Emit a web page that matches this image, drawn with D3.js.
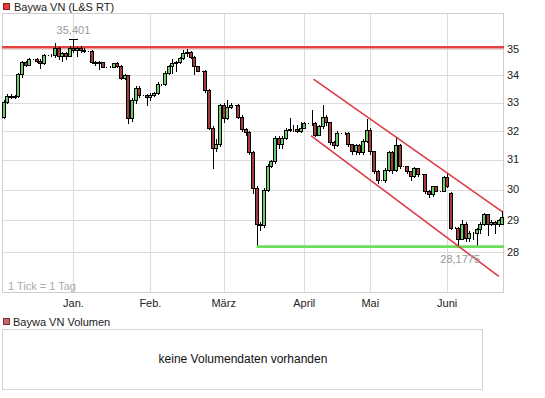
<!DOCTYPE html>
<html>
<head>
<meta charset="utf-8">
<script src="https://cdn.jsdelivr.net/npm/d3@7"></script>
<style>
  body { margin: 0; background: #fff; }
  svg { display: block; font-family: "Liberation Sans", Arial, sans-serif; }
</style>
</head>
<body>
<svg id="chart" width="545" height="398"></svg>
<script>
// daily candles, Dec .. Jun, one tick per trading day
const opens = [32.49,33.04,33.25,33.22,33.25,34.05,34.50,34.40,34.62,34.62,34.55,34.45,34.77,34.77,34.77,35.05,34.75,34.85,34.75,
  35.05,34.98,35.02,34.98,34.93,34.93,34.50,34.46,34.50,34.32,34.32,34.32,34.45,34.35,33.90,34.00,32.46,33.10,33.55,33.28,33.28,
  33.20,33.28,33.35,33.70,33.68,34.10,34.35,34.45,34.50,34.66,34.85,34.90,34.70,34.35,34.18,34.18,33.46,32.10,31.40,31.52,
  32.90,32.46,32.85,32.92,32.92,32.50,32.05,31.95,31.25,30.05,28.90,28.85,30.00,30.80,30.95,31.75,31.55,31.75,32.04,32.07,32.07,32.00,
  32.10,32.28,32.28,32.28,31.86,32.15,32.50,32.30,31.60,31.50,31.93,31.93,31.93,31.52,31.28,31.50,31.25,31.65,
  32.04,31.28,30.60,30.30,30.30,30.65,31.25,30.65,31.50,30.78,30.78,30.60,30.45,30.70,30.50,30.50,29.96,29.85,30.10,29.96,29.96,
  30.40,29.90,28.77,28.77,28.42,28.90,28.45,28.60,28.60,28.72,28.88,29.20,28.90,28.95,28.88,28.90];
const highs = [33.08,33.30,33.30,33.28,34.10,34.55,34.55,34.65,34.62,34.66,34.60,34.80,34.77,34.80,35.25,35.08,34.88,34.90,35.10,
  35.401,35.08,35.12,35.05,34.93,34.95,34.55,34.55,34.52,34.32,34.34,34.48,34.50,34.40,34.05,34.02,33.15,33.60,33.60,33.28,33.30,
  33.35,33.40,33.75,33.70,34.15,34.38,34.60,34.55,34.68,34.95,35.00,34.92,34.72,34.35,34.18,34.20,33.48,32.15,31.70,32.95,
  33.00,33.10,33.00,32.92,32.95,32.55,32.10,32.00,31.30,30.10,28.95,30.05,30.85,31.00,31.80,31.80,31.80,32.10,32.45,32.20,32.20,32.30,
  32.30,32.28,32.74,32.30,32.20,32.90,32.55,32.32,31.65,32.00,31.93,31.95,31.95,31.55,31.55,31.55,31.70,32.40,
  32.10,31.30,30.65,30.30,30.70,31.30,31.30,31.75,31.52,30.78,30.80,30.62,30.75,30.72,30.50,30.52,30.00,30.12,30.10,29.96,30.45,
  30.55,29.92,28.80,28.78,29.02,28.95,28.65,28.62,28.75,28.95,29.25,29.22,29.00,28.98,29.05,29.30];
const lows = [32.46,33.00,33.15,33.18,33.20,33.95,34.35,34.38,34.62,34.50,34.28,34.42,34.77,34.74,34.70,34.60,34.55,34.62,34.72,
  34.90,34.75,34.90,34.90,34.93,34.45,34.40,34.25,34.30,34.32,34.30,34.30,34.30,33.85,33.88,32.28,32.35,33.00,33.20,33.28,32.92,
  33.10,33.25,33.30,33.66,33.65,34.05,34.10,34.15,34.48,34.60,34.75,34.65,34.05,34.15,34.18,33.40,32.05,30.70,31.30,31.45,
  32.30,32.40,32.80,32.92,32.45,32.00,31.85,31.20,29.90,28.19,28.70,28.80,29.95,30.75,30.90,31.40,31.40,31.70,32.00,32.00,31.95,31.95,
  32.08,32.28,32.20,31.80,31.85,32.10,32.20,31.55,31.40,31.45,31.93,31.90,31.45,31.20,31.20,31.20,31.20,31.60,
  31.20,30.55,30.20,30.30,30.25,30.60,30.55,30.60,30.70,30.78,30.55,30.30,30.40,30.45,30.50,29.90,29.75,29.80,29.94,29.96,29.94,
  30.08,28.72,28.75,28.1775,28.40,28.35,28.35,28.40,28.20,28.60,28.85,28.55,28.85,28.60,28.82,28.88];
const closes = [33.04,33.25,33.22,33.25,34.05,34.50,34.40,34.62,34.62,34.55,34.45,34.77,34.77,34.77,35.05,34.75,34.85,34.75,35.05,
  34.98,35.02,34.98,34.93,34.93,34.50,34.46,34.50,34.32,34.32,34.32,34.45,34.35,33.90,34.00,32.46,33.10,33.55,33.28,33.28,33.20,
  33.28,33.35,33.70,33.68,34.10,34.35,34.45,34.50,34.66,34.85,34.90,34.70,34.35,34.18,34.18,33.46,32.10,31.40,31.52,32.90,
  32.46,32.85,32.92,32.92,32.50,32.05,31.95,31.25,30.05,28.90,28.85,30.00,30.80,30.95,31.75,31.55,31.75,32.04,32.07,32.07,32.00,32.10,
  32.28,32.28,32.28,31.86,32.15,32.50,32.30,31.60,31.50,31.93,31.93,31.93,31.52,31.28,31.50,31.25,31.65,32.04,
  31.28,30.60,30.30,30.30,30.65,31.25,30.65,31.50,30.78,30.78,30.60,30.45,30.70,30.50,30.50,29.96,29.85,30.10,29.96,29.96,30.40,
  30.12,28.77,28.77,28.42,28.90,28.45,28.60,28.60,28.72,28.88,29.20,28.90,28.95,28.88,29.00,29.10];

const monthLabels = ["Jan.", "Feb.", "März", "April", "Mai", "Juni"];
const monthStarts = [19, 40, 60, 82, 100, 121];
const priceTicks = [28, 29, 30, 31, 32, 33, 34, 35];

const resistance = 35.07;
const supportStart = 69;
// trend channel: [index, price] endpoints
const channelUpper = [[84.5, 33.86], [136.0, 29.28]];
const channelLower = [[83.8, 31.83], [135.1, 27.27]];

const svg = d3.select("#chart");
const plotL = 2, plotR = 504, plotT = 13, plotB = 293;
const n = closes.length;

const x = d3.scaleBand().domain(d3.range(n)).range([plotL, plotR]);
const cx = (i) => x(i) + x.bandwidth() / 2;
const xi = d3.scaleLinear().domain([0, n]).range([plotL, plotR]);
const y = d3.scaleLog().domain([26.78, 36.41]).range([plotB, plotT]);

// grid
const grid = svg.append("g").attr("shape-rendering", "crispEdges");
grid.selectAll(".hg").data(priceTicks).enter().append("line")
  .attr("x1", plotL).attr("x2", plotR)
  .attr("y1", (d) => Math.round(y(d)) + 0.5).attr("y2", (d) => Math.round(y(d)) + 0.5)
  .attr("stroke", "#dcdcdc");
grid.selectAll(".vg").data(monthStarts).enter().append("line")
  .attr("x1", (d) => Math.round(cx(d)) + 0.5).attr("x2", (d) => Math.round(cx(d)) + 0.5)
  .attr("y1", plotT).attr("y2", plotB)
  .attr("stroke", "#dcdcdc");
grid.append("rect")
  .attr("x", plotL + 0.5).attr("y", plotT + 0.5)
  .attr("width", plotR - plotL - 1).attr("height", plotB - plotT - 1)
  .attr("fill", "none").attr("stroke", "#cfcfcf");

// y labels on right
svg.append("g").selectAll("text").data(priceTicks).enter().append("text")
  .attr("x", 507).attr("y", (d) => y(d)).attr("dy", "0.35em")
  .attr("font-size", 11).attr("fill", "#222")
  .text((d) => d);

// month labels
svg.append("g").selectAll("text").data(monthStarts).enter().append("text")
  .attr("x", (d) => cx(d)).attr("y", 307)
  .attr("text-anchor", "middle").attr("font-size", 11).attr("fill", "#222")
  .text((d, i) => monthLabels[i]);

svg.append("text").attr("x", 8).attr("y", 290)
  .attr("font-size", 11).attr("fill", "#aaa").text("1 Tick = 1 Tag");

// resistance
svg.append("line")
  .attr("x1", plotL).attr("x2", plotR)
  .attr("y1", y(resistance)).attr("y2", y(resistance))
  .attr("stroke", "#e5413f").attr("stroke-width", 2.6);

// candles
const candles = svg.append("g").attr("shape-rendering", "crispEdges");
const idx = d3.range(n);
candles.selectAll(".wick").data(idx).enter().append("line")
  .attr("x1", (i) => Math.round(cx(i)) + 0.5).attr("x2", (i) => Math.round(cx(i)) + 0.5)
  .attr("y1", (i) => Math.round(y(highs[i]))).attr("y2", (i) => Math.round(y(lows[i])) + 1)
  .attr("stroke", "#000");
candles.selectAll(".body").data(idx).enter().append("rect")
  .attr("x", (i) => Math.round(cx(i)) - 1.5)
  .attr("width", 3)
  .attr("y", (i) => Math.round(y(Math.max(opens[i], closes[i]))) + 0.5)
  .attr("height", (i) => Math.round(y(Math.min(opens[i], closes[i]))) - Math.round(y(Math.max(opens[i], closes[i]))))
  .attr("fill", (i) => closes[i] > opens[i] ? "#6ccc6c" : closes[i] < opens[i] ? "#a33b3b" : "#000")
  .attr("stroke", "#000");

const lowIdx = d3.minIndex(lows), highIdx = d3.maxIndex(highs);

// support
svg.append("line")
  .attr("x1", cx(supportStart)).attr("x2", plotR)
  .attr("y1", y(lows[lowIdx])).attr("y2", y(lows[lowIdx]))
  .attr("stroke", "#6bde5e").attr("stroke-width", 2.6);

const chan = d3.line().x((d) => xi(d[0] + 0.5)).y((d) => y(d[1]));
[channelUpper, channelLower].forEach((c) => {
  svg.append("path").attr("d", chan(c))
    .attr("fill", "none").attr("stroke", "#e03a48").attr("stroke-width", 1.6);
});

// max / min markers
svg.append("line")
  .attr("x1", Math.round(cx(highIdx)) - 4).attr("x2", Math.round(cx(highIdx)) + 5)
  .attr("y1", Math.round(y(highs[highIdx])) + 0.5).attr("y2", Math.round(y(highs[highIdx])) + 0.5)
  .attr("stroke", "#000").attr("shape-rendering", "crispEdges");
svg.append("text")
  .attr("x", cx(highIdx)).attr("y", y(highs[highIdx]) - 5)
  .attr("text-anchor", "middle").attr("font-size", 11).attr("fill", "#999")
  .text(d3.format(".3f")(highs[highIdx]).replace(".", ","));
svg.append("text")
  .attr("x", cx(lowIdx) + 2).attr("y", y(lows[lowIdx]) + 16)
  .attr("text-anchor", "middle").attr("font-size", 11).attr("fill", "#999")
  .text(String(lows[lowIdx]).replace(".", ","));

// legends
svg.append("rect").attr("x", 3.5).attr("y", 3.5).attr("width", 6).attr("height", 6)
  .attr("fill", "#e53b3b").attr("stroke", "#8a1f1f");
svg.append("text").attr("x", 14).attr("y", 11)
  .attr("font-size", 11).attr("fill", "#222").text("Baywa VN (L&S RT)");

svg.append("rect").attr("x", 3.5).attr("y", 318.5).attr("width", 6).attr("height", 6)
  .attr("fill", "#c4646c").attr("stroke", "#7a2f35");
svg.append("text").attr("x", 13).attr("y", 326)
  .attr("font-size", 11).attr("fill", "#222").text("Baywa VN Volumen");

// volume panel
svg.append("rect").attr("x", 2.5).attr("y", 329.5).attr("width", 480).attr("height", 60)
  .attr("fill", "none").attr("stroke", "#d4d4d4").attr("shape-rendering", "crispEdges");
svg.append("text").attr("x", 243).attr("y", 363)
  .attr("text-anchor", "middle").attr("font-size", 12).attr("fill", "#111")
  .text("keine Volumendaten vorhanden");
</script>
</body>
</html>
